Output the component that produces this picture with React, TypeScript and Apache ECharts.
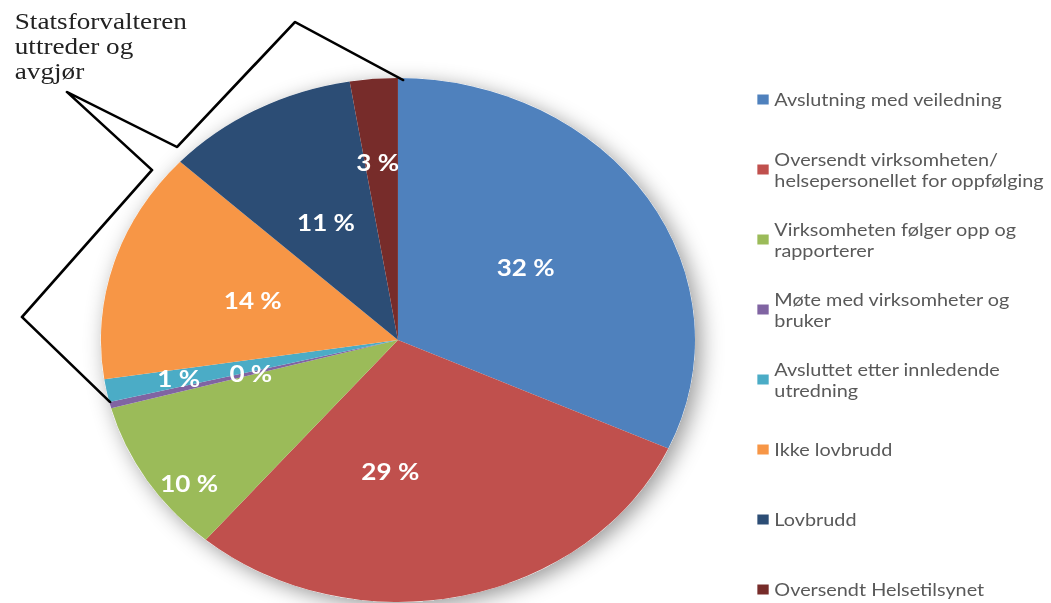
import React, { useEffect, useRef } from "react";
import * as echarts from "echarts";

const categories = [
  "Avslutning med veiledning",
  "Oversendt virksomheten/\nhelsepersonellet for oppfølging",
  "Virksomheten følger opp og\nrapporterer",
  "Møte med virksomheter og\nbruker",
  "Avsluttet etter innledende\nutredning",
  "Ikke lovbrudd",
  "Lovbrudd",
  "Oversendt Helsetilsynet",
];
const values = [31.8, 29.4, 9.6, 0.4, 1.4, 14.3, 10.5, 2.6];
const annotationText = "Statsforvalteren\nuttreder og\navgjør";

const colors = ["#4F81BD", "#C0504D", "#9BBB59", "#8064A2", "#4BACC6", "#F79646", "#2C4D75", "#772C2A"];
const labelOffsets = [[0, 0], [-36, 0], [-71, 71], [0, 0], [-62, 12], [0, 0], [0, 0], [-7, -44]];

const W = 1051;
const H = 603;
const W0 = 927;
const SX = W / W0;

// bracket in page pixels
const bracketPts = [[403, 80], [295, 22], [177, 147], [67, 92], [152, 170], [22, 317], [110, 402]];

export default function App() {
  const ref = useRef<HTMLDivElement>(null);
  useEffect(() => {
    const chart = echarts.init(ref.current!, null, { renderer: "svg" });
    const L = 21;
    chart.setOption({
      animation: false,
      backgroundColor: "#ffffff",
      legend: {
        orient: "vertical",
        left: 668,
        top: 68,
        height: 580,
        padding: 0,
        itemWidth: 10,
        itemHeight: 10,
        itemGap: 7,
        icon: "rect",
        selectedMode: false,
        textStyle: { fontFamily: "Lato", fontSize: 17.5, lineHeight: L, color: "#595959" },
        data: categories.map((c) => ({
          name: c,
          textStyle: { padding: c.includes("\n") ? [L, 0, 0, 0] : [L, 0, L, 0] },
        })),
      },
      series: [
        {
          type: "pie",
          silent: true,
          center: [351, 340],
          radius: 262,
          label: { show: false },
          labelLine: { show: false },
          legendHoverLink: false,
          itemStyle: {
            color: "#ffffff",
            shadowBlur: 20,
            shadowColor: "rgba(0,0,0,0.4)",
            shadowOffsetX: 5,
            shadowOffsetY: 5,
          },
          data: [{ name: "_bg", value: 1 }],
        },
        {
          type: "pie",
          center: [351, 340],
          radius: 262,
          startAngle: 90,
          clockwise: true,
          avoidLabelOverlap: false,
          minShowLabelAngle: 0,
          label: {
            show: true,
            position: "inside",
            color: "#ffffff",
            fontFamily: "Lato",
            fontWeight: "bold",
            fontSize: 23,
            formatter: (p: any) => Math.round(p.percent) + " %",
          },
          labelLine: { show: false },
          data: categories.map((c, i) => ({
            name: c,
            value: values[i],
            itemStyle: { color: colors[i] },
            label: { offset: labelOffsets[i] },
          })),
        },
      ],
      graphic: [
        {
          type: "polyline",
          z: 100,
          shape: { points: bracketPts.map(([x, y]) => [x / SX, y]) },
          style: { stroke: "#000000", lineWidth: 2.5, fill: null, lineJoin: "round", lineCap: "round" },
        },
        {
          type: "text",
          z: 100,
          x: 13,
          y: 9,
          style: {
            text: annotationText,
            font: "24px 'Liberation Serif'",
            lineHeight: 25,
            fill: "#222222",
            textVerticalAlign: "top",
          },
        },
      ],
    });
    return () => chart.dispose();
  }, []);
  return (
    <div style={{ position: "absolute", left: 0, top: 0, width: W, height: H, overflow: "hidden", background: "#fff" }}>
      <div ref={ref} style={{ width: W0, height: H, transform: `scaleX(${SX})`, transformOrigin: "0 0" }} />
    </div>
  );
}
